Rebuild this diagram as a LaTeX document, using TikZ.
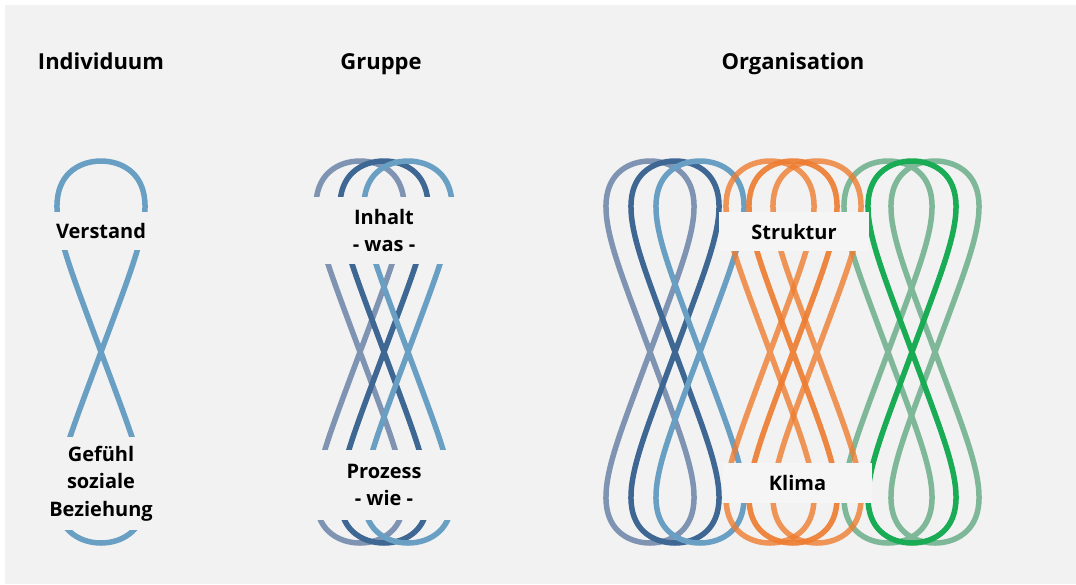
\documentclass[tikz,border=0pt]{standalone}
\usepackage{fontspec}
\setmainfont{Open Sans}
\definecolor{bgGray}{HTML}{F2F2F2}
\definecolor{boxGray}{HTML}{F5F5F5}
\definecolor{blueGray}{HTML}{7F93B3}
\definecolor{blueDark}{HTML}{3F6794}
\definecolor{blueLight}{HTML}{6A9FC4}
\definecolor{orangeMid}{HTML}{ED7D31}
\definecolor{greenLight}{HTML}{7FB898}
\definecolor{greenStrong}{HTML}{1AAB55}
\tikzstyle{eights}=[%
	eight/.style={%
		line width=5.5,
		line join=round
	},%
	title/.style={%
		anchor=base,
		font=\fontsize{22}{26}\selectfont\bfseries
	},%
	cutout/.style={%
		fill=bgGray,
		inner sep=0pt,
		align=center,
		font=\fontsize{20}{27.5}\selectfont\bfseries
	}
]

\begin{document}
\begin{tikzpicture}[
	x=1pt,
	y=-1pt,
	eights
]
	\fill [white] (0,0) rectangle (1076,584);
	\fill [bgGray] (5,5) rectangle (1076,584);

	\node [title] (indiv) at (101,69) {Individuum};
	\node [title] (gruppe) at (381,69) {Gruppe};
	\node [title] (orga) at (793,69) {Organisation};

	% Individuum
	\draw [eight, blueLight] plot [variable=\t, domain=0:360, samples=145]
		({101+71*sin(\t)*cos(\t)*sqrt(1+sin(\t)*sin(\t))}, {352+191*sin(\t)});
	\node [cutout, minimum width=104, minimum height=38] (verstand) at (101,231) {Verstand};
	\node [cutout, minimum width=104, minimum height=93] (gefuehl) at (101,483.5) {Gefühl\\soziale\\Beziehung};

	% Gruppe
	\foreach \cx/\col in {360/blueGray, 384/blueDark, 408/blueLight} {
		\draw [eight, \col] plot [variable=\t, domain=0:360, samples=145]
			({\cx+71*sin(\t)*cos(\t)*sqrt(1+sin(\t)*sin(\t))}, {352+191*sin(\t)});
	}
	\node [cutout, minimum width=150, minimum height=67] (inhalt) at (384,230.5) {Inhalt\\- was -};
	\node [cutout, minimum width=150, minimum height=70] (prozess) at (384,485) {Prozess\\- wie -};

	% Organisation
	\foreach \cx/\col in {650/blueGray, 675/blueDark, 700/blueLight, 888/greenLight, 935/greenLight, 912/greenStrong} {
		\draw [eight, \col] plot [variable=\t, domain=0:360, samples=145]
			({\cx+71*sin(\t)*cos(\t)*sqrt(1+sin(\t)*sin(\t))}, {352+191*sin(\t)});
	}
	\foreach \cx/\op in {770/0.8, 817/0.8, 793/0.92} {
		\draw [eight, orangeMid, draw opacity=\op] plot [variable=\t, domain=0:360, samples=145]
			({\cx+71*sin(\t)*cos(\t)*sqrt(1+sin(\t)*sin(\t))}, {352+191*sin(\t)});
	}
	\node [cutout, fill=boxGray, minimum width=150, minimum height=39] (struktur) at (794,231.5) {Struktur};
	\node [cutout, fill=boxGray, minimum width=149, minimum height=40] (klima) at (797.5,483) {Klima};
\end{tikzpicture}
\end{document}
